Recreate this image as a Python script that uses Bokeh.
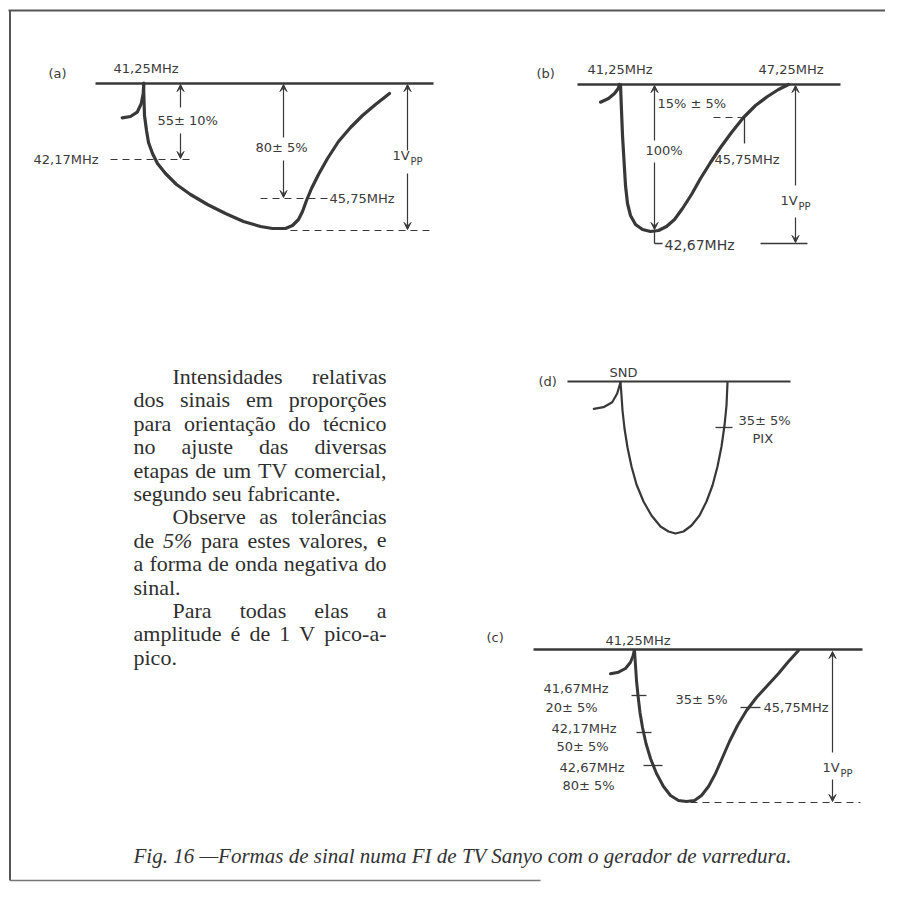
from bokeh.plotting import figure
from bokeh.models import Range1d, Arrow, VeeHead
from bokeh.core.properties import value
from bokeh.embed import file_html
from bokeh.resources import INLINE

# ---------------- data (page pixel coordinates) ----------------
# (a) curve
a_hook_x = [121.7, 130, 136.7, 140.7, 142.7, 143.3]
a_hook_y = [117.3, 116, 111.7, 103.3, 93.3, 82.7]
a_curve_x = [143, 143.5, 144, 146, 148, 152, 157, 165, 176, 190, 207, 225, 243, 260, 272,
             285, 292, 298, 302, 306, 311, 318, 327, 338, 350, 362, 375, 389]
a_curve_y = [83, 100, 115, 130, 142, 153, 163, 173, 184, 194, 204, 213, 221, 226, 228,
             228, 225, 219, 211, 200, 188, 174, 158, 141, 127, 115, 104, 93]
# (b) curve
b_hook_x = [600, 608, 614, 617.7, 619]
b_hook_y = [101.7, 98, 93, 88, 84]
b_curve_x = [620, 621, 622, 623.5, 625, 627, 630, 635, 642, 650, 658, 666, 674, 682, 691,
             700, 710, 720, 731, 743, 755, 767, 778, 788]
b_curve_y = [84, 110, 135, 160, 185, 203, 215, 224, 229, 231, 230, 226, 219, 208, 194,
             178, 162, 147, 132, 117, 105, 96, 89, 84]
# (d) curve
d_hook_x = [593.3, 603, 611.7, 616.7, 620]
d_hook_y = [408.3, 406.7, 401.7, 393, 381.7]
d_curve_x = [620, 621, 622, 624, 627, 631, 636, 643, 651, 660, 668, 675, 683, 691, 699,
             706, 712, 717, 721, 724, 726, 727]
d_curve_y = [382, 395, 410, 428, 447, 466, 484, 501, 515, 526, 531, 533, 531, 525, 515,
             501, 485, 466, 446, 425, 405, 382]
# (c) curve
c_hook_x = [610, 618, 625, 630, 632.7, 633.7]
c_hook_y = [673.3, 671.7, 668, 661.7, 655, 650]
c_curve_x = [634, 635, 636, 637.5, 639.5, 642, 645.5, 650, 656, 663, 670, 678, 686, 694,
             701, 708, 715, 722, 729, 737, 746, 756, 767, 778, 788, 798]
c_curve_y = [650, 665, 680, 695, 712, 727, 743, 758, 773, 786, 795, 800, 801, 800, 795,
             786, 773, 757, 741, 725, 710, 697, 685, 673, 661, 650]

# labels
panel_labels = ["(a)", "(b)", "(d)", "(c)"]
freq_labels = ["41,25MHz", "42,17MHz", "45,75MHz", "41,25MHz", "47,25MHz", "45,75MHz",
               "42,67MHz", "SND", "41,25MHz", "41,67MHz", "42,17MHz", "42,67MHz", "45,75MHz"]
pct_labels = ["55± 10%", "80± 5%", "15% ± 5%", "100%", "35± 5%", "PIX",
              "20± 5%", "50± 5%", "80± 5%", "35± 5%"]

para_lines = [
    ("Intensidades relativas", True, True),
    ("dos sinais em proporções", False, True),
    ("para orientação do técnico", False, True),
    ("no ajuste das diversas", False, True),
    ("etapas de um TV comercial,", False, True),
    ("segundo seu fabricante.", False, False),
    ("Observe as tolerâncias", True, True),
    ("de 5% para estes valores, e", False, True),
    ("a forma de onda negativa do", False, True),
    ("sinal.", False, False),
    ("Para todas elas a", True, True),
    ("amplitude é de 1 V pico-a-", False, True),
    ("pico.", False, False),
]
caption = "Fig. 16 —Formas de sinal numa FI de TV Sanyo com o gerador de varredura."

# ---------------- figure ----------------
INK = "#383838"
TXT = "#3a3a3a"
p = figure(width=885, height=882, x_range=Range1d(0, 885), y_range=Range1d(882, 0),
           output_backend="svg", toolbar_location=None, min_border=0,
           x_axis_type=None, y_axis_type=None,
           background_fill_color="white", border_fill_color="white", outline_line_color=None)
p.grid.visible = False

# frame
p.line([8, 885], [10, 10], line_color="#555555", line_width=2)
p.line([9.5, 9.5], [10, 880], line_color="#555555", line_width=2)
p.line([9.5, 540], [880, 880], line_color="#777777", line_width=1.5)

# baselines
for xs, y, w in [((95, 433), 83, 2.6), ((577, 840), 84, 2.6), ((567, 790), 381, 2.0), ((533, 862), 649, 2.4)]:
    p.line(list(xs), [y, y], line_color=INK, line_width=w)

# curves
for hx, hy, cx, cy, w in [(a_hook_x, a_hook_y, a_curve_x, a_curve_y, 3.2),
                          (b_hook_x, b_hook_y, b_curve_x, b_curve_y, 3.2),
                          (d_hook_x, d_hook_y, d_curve_x, d_curve_y, 2.2),
                          (c_hook_x, c_hook_y, c_curve_x, c_curve_y, 3.0)]:
    p.line(hx, hy, line_color=INK, line_width=w, line_join="round", line_cap="round")
    p.line(cx, cy, line_color=INK, line_width=w, line_join="round", line_cap="round")

# dashed guides
for xs, y in [((110, 193), 159), ((260, 327), 198), ((290, 432), 230), ((713, 743), 117), ((690, 860), 802)]:
    p.line(list(xs), [y, y], line_color=INK, line_width=1.2, line_dash="7 5")

# plain thin lines (ticks, leaders)
thin = [((744, 744), (117, 143)), ((654, 654), (230, 243)), ((654, 662), (243, 243)),
        ((760, 807), (243, 243)), ((715, 732), (427, 427)),
        ((631, 646), (695, 695)), ((636, 651), (732, 732)), ((643, 662), (765, 765)),
        ((740, 760), (707, 707))]
for xs, ys in thin:
    p.line(list(xs), list(ys), line_color=INK, line_width=1.3)

# arrows (segment start -> head)
def arrow(x, y0, y1):
    p.add_layout(Arrow(x_start=x, y_start=y0, x_end=x, y_end=y1, line_color=INK, line_width=1.2,
                       end=VeeHead(size=7, line_color=INK, fill_color=INK, line_width=1)))

for x, y0, y1 in [(180, 107, 84), (180, 133, 158), (283, 137, 84), (283, 160, 197),
                  (407, 150, 84), (407, 173, 229), (654, 140, 85), (654, 162, 229),
                  (795, 185, 85), (795, 217, 242), (832, 752, 651), (832, 779, 801)]:
    arrow(x, y0, y1)

# small diagram labels
def lab(x, y, t, size="13px", align="left"):
    p.text(x=[x], y=[y], text=[t], text_font=value("DejaVu Sans"), text_font_size=size,
           text_color=TXT, text_align=align, text_baseline="middle")

lab(48, 73, panel_labels[0]); lab(536, 73, panel_labels[1]); lab(538, 381, panel_labels[2]); lab(486, 637, panel_labels[3])
lab(113, 68, freq_labels[0]); lab(33, 159, freq_labels[1]); lab(329, 198, freq_labels[2])
lab(587, 69, freq_labels[3]); lab(758, 69, freq_labels[4]); lab(714, 159, freq_labels[5])
lab(664, 244, freq_labels[6], size="14px"); lab(609, 372, freq_labels[7])
lab(605, 640, freq_labels[8]); lab(543, 688, freq_labels[9]); lab(551, 728, freq_labels[10])
lab(559, 767, freq_labels[11]); lab(763, 707, freq_labels[12])
lab(157, 120, pct_labels[0]); lab(255, 147, pct_labels[1]); lab(657, 103, pct_labels[2])
lab(645, 150, pct_labels[3]); lab(738, 420, pct_labels[4]); lab(752, 438, pct_labels[5])
lab(545, 707, pct_labels[6]); lab(556, 746, pct_labels[7]); lab(562, 785, pct_labels[8])
lab(675, 699, pct_labels[9])
# 1Vpp labels
for x, y in [(392, 155), (780, 200), (822, 767)]:
    lab(x, y, "1V")
    lab(x + 18, y + 6, "PP", size="10px")

# ---------------- justified paragraph ----------------
W = {' ': 250, 'a': 444, 'b': 500, 'c': 444, 'd': 500, 'e': 444, 'f': 333, 'g': 500, 'h': 500,
     'i': 278, 'j': 278, 'k': 500, 'l': 278, 'm': 778, 'n': 500, 'o': 500, 'p': 500, 'q': 500,
     'r': 333, 's': 389, 't': 278, 'u': 500, 'v': 500, 'w': 722, 'x': 500, 'y': 500, 'z': 444,
     'A': 722, 'B': 667, 'C': 667, 'D': 722, 'E': 611, 'F': 556, 'G': 722, 'H': 722, 'I': 333,
     'O': 722, 'P': 556, 'S': 556, 'T': 611, 'V': 722, ',': 250, '.': 250, '-': 333, '%': 833,
     'ç': 444, 'õ': 500, 'ã': 444, 'é': 444, 'â': 444}
FS = 22
def tw(s):
    return sum(W.get(ch, 500) for ch in s) / 1000.0 * FS

LEFT, RIGHT, INDENT = 133, 386, 172
center0, step = 376, 23.4
for i, (line, indent, justify) in enumerate(para_lines):
    words = line.split(" ")
    x0 = INDENT if indent else LEFT
    total = sum(tw(w) for w in words)
    if justify and len(words) > 1:
        gap = (RIGHT - x0 - total) / (len(words) - 1)
    else:
        gap = tw(" ")
    x = x0
    y = center0 + i * step
    for w in words:
        style = "italic" if w == "5%" else "normal"
        p.text(x=[x], y=[y], text=[w], text_font=value("Liberation Serif"), text_font_size=f"{FS}px",
               text_font_style=style, text_color="#2e2e2e", text_align="left", text_baseline="middle")
        x += tw(w) + gap

# caption
p.text(x=[133], y=[855], text=[caption], text_font=value("Liberation Serif"), text_font_size="21px",
       text_font_style="italic", text_color="#333333", text_align="left", text_baseline="middle")

open("out.html", "w").write(file_html(p, INLINE))
